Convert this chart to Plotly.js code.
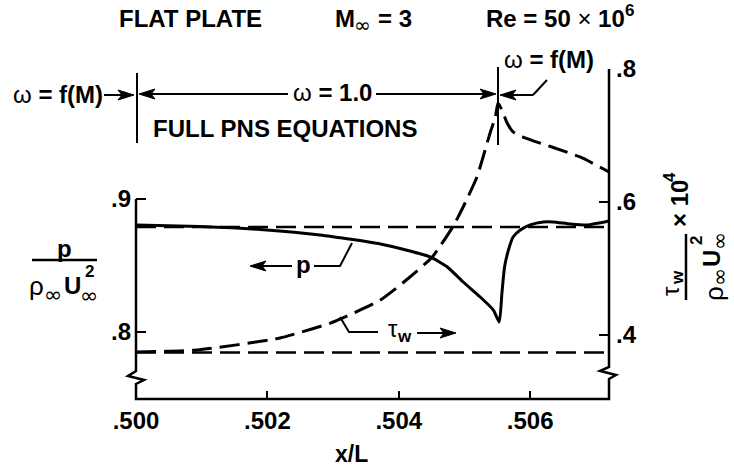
<!DOCTYPE html>
<html>
<head>
<meta charset="utf-8">
<script src="https://cdn.plot.ly/plotly-3.0.1.min.js"></script>
<style>html,body{margin:0;padding:0;background:#fff;}#chart{width:734px;height:467px;}</style>
</head>
<body>
<div id="chart"></div>
<script>
// ---- data ----
const xP    = [0.50000, 0.50098, 0.50189, 0.50280, 0.50372, 0.50417, 0.50448, 0.50474, 0.50498, 0.50524, 0.50544, 0.50553, 0.50557, 0.50561, 0.50567, 0.50574, 0.50585, 0.50600, 0.50620, 0.50635, 0.50661, 0.50687, 0.50720];
const pVals = [0.8805, 0.8793, 0.8771, 0.8729, 0.8662, 0.8609, 0.8564, 0.8489, 0.8376, 0.8263, 0.8165, 0.8075, 0.8293, 0.8489, 0.8617, 0.8714, 0.8767, 0.8805, 0.8827, 0.8827, 0.8812, 0.8805, 0.8835];
const xTau    = [0.50000, 0.50093, 0.50219, 0.50296, 0.50372, 0.50417, 0.50451, 0.50483, 0.50498, 0.50519, 0.50539, 0.50547, 0.50551, 0.50557, 0.50565, 0.50574, 0.50589, 0.50676, 0.50720];
const tauVals = [0.3744, 0.3774, 0.3955, 0.4180, 0.4526, 0.4872, 0.5173, 0.5639, 0.5925, 0.6376, 0.7038, 0.7278, 0.7489, 0.7383, 0.7188, 0.7053, 0.6977, 0.6677, 0.6451];
const xRef   = [0.5000, 0.5072];
const pRef   = [0.879, 0.879];
const tauRef = [0.3737, 0.3737];
const xTickVals = [0.500, 0.502, 0.504, 0.506];
const xTickText = ['.500', '.502', '.504', '.506'];
const pTickVals = [0.8, 0.9];
const pTickText = ['.8', '.9'];
const tauTickVals = [0.4, 0.6, 0.8];
const tauTickText = ['.4', '.6', '.8'];

// ---- layout helpers (pixel -> paper) ----
const PL = 136, PR = 609, PT = 69, PB = 399;
const fx = px => (px - PL) / (PR - PL);
const fy = py => (PB - py) / (PB - PT);
const FONT = 'Liberation Sans, Arial, Helvetica, sans-serif';
const INF_FONT = 'DejaVu Sans';
const DASH = '20px,8px';

const traces = [
  {x: xP, y: pVals, mode: 'lines', line: {color: '#000', width: 3, shape: 'spline', smoothing: 0.5}, yaxis: 'y'},
  {x: xRef, y: pRef, mode: 'lines', line: {color: '#000', width: 2.5, dash: DASH}, yaxis: 'y'},
  {x: xTau, y: tauVals, mode: 'lines', line: {color: '#000', width: 3, dash: DASH, shape: 'spline', smoothing: 0.5}, yaxis: 'y2'},
  {x: xRef, y: tauRef, mode: 'lines', line: {color: '#000', width: 2.5, dash: DASH}, yaxis: 'y2'}
];

function line(x0, y0, x1, y1, w) {
  return {type: 'line', xref: 'paper', yref: 'paper', x0: fx(x0), y0: fy(y0), x1: fx(x1), y1: fy(y1), line: {color: '#000', width: w || 2}};
}
function pathPx(pts, w, fill) {
  const d = pts.map((p, i) => (i ? 'L' : 'M') + fx(p[0]) + ',' + fy(p[1])).join(' ') + (fill ? ' Z' : '');
  const s = {type: 'path', xref: 'paper', yref: 'paper', path: d, line: {color: '#000', width: w || 2}};
  if (fill) s.fillcolor = '#000';
  return s;
}
// arrow from tail (tx,ty) to head (hx,hy): shaft + filled head
function arrowShapes(hx, hy, tx, ty) {
  const L = Math.hypot(hx - tx, hy - ty), ux = (hx - tx) / L, uy = (hy - ty) / L;
  const len = 16, hw = 5, notch = 4;
  const bx = hx - ux * len, by = hy - uy * len;
  const nx = -uy, ny = ux;
  return [
    line(tx, ty, hx - ux * (len - notch), hy - uy * (len - notch), 2),
    pathPx([[hx, hy], [bx + nx * hw, by + ny * hw], [hx - ux * (len - notch), hy - uy * (len - notch)], [bx - nx * hw, by - ny * hw]], 1, true)
  ];
}
const shapes = [
  pathPx([[136,199],[136,371],[128,376],[144,380],[136,384],[136,399],[609,399],[609,379],[616,375],[600,371],[609,367],[609,69]], 2.5),
  line(137, 73, 137, 143, 2),
  line(498, 67, 498, 145, 2),
  line(533, 95, 547, 80, 2),
  line(32, 260, 97, 260, 2.5),
  line(686, 234, 686, 300, 2.5),
  pathPx([[314,266],[340,266],[352,243]], 2),
  pathPx([[340,317],[349,332],[378,332]], 2),
  ...arrowShapes(134, 95, 104, 95),
  ...arrowShapes(139, 94, 288, 94),
  ...arrowShapes(496, 94, 376, 94),
  ...arrowShapes(500, 95, 533, 95),
  ...arrowShapes(250, 266, 292, 266),
  ...arrowShapes(456, 333, 417, 333)
];

function txt(t, px, py, size, extra, fam) {
  return Object.assign({text: t, x: fx(px), y: fy(py), xref: 'paper', yref: 'paper', showarrow: false,
    xanchor: 'center', yanchor: 'middle', font: {family: fam || FONT, size: size || 24, color: '#000'}}, extra || {});
}
const annotations = [
  txt('<b>FLAT PLATE</b>', 190, 19),
  txt('<b>M</b>', 345, 19),
  txt('∞', 362, 25, 20, null, INF_FONT),
  txt('<b>= 3</b>', 395, 19),
  txt('<b>Re = 50 </b>×<b> 10</b>', 627, 19, 24, {xanchor: 'right'}),
  txt('<b>6</b>', 623, 10, 17, {xanchor: 'left'}),
  txt('ω<b> = f(M)</b>', 58, 95),
  txt('ω<b> = 1.0</b>', 332, 92),
  txt('ω<b> = f(M)</b>', 549, 59),
  txt('<b>FULL PNS EQUATIONS</b>', 285, 128),
  txt('<b>p</b>', 303, 264),
  txt('τ', 393, 328),
  txt('<b>w</b>', 404, 336, 17),
  txt('<b>x/L</b>', 351, 454, 23),
  // left axis title
  txt('<b>p</b>', 64, 248),
  txt('ρ', 36, 286, 26),
  txt('∞', 53, 294, 22, null, INF_FONT),
  txt('<b>U</b>', 72, 285),
  txt('<b>2</b>', 89, 271, 17),
  txt('∞', 89, 295, 22, null, INF_FONT),
  // right axis title (rotated)
  txt('τ', 670, 291, 24, {textangle: -90}),
  txt('<b>w</b>', 677, 278, 17, {textangle: -90}),
  txt('ρ', 714, 294, 26, {textangle: -90}),
  txt('∞', 719, 277, 22, {textangle: -90}, INF_FONT),
  txt('<b>U</b>', 711, 259, 24, {textangle: -90}),
  txt('<b>2</b>', 696, 241, 17, {textangle: -90}),
  txt('∞', 719, 241, 22, {textangle: -90}, INF_FONT),
  txt('<b>× 10</b>', 679, 204, 24, {textangle: -90}),
  txt('<b>4</b>', 669, 177, 17, {textangle: -90})
];

const tickFont = {family: FONT, size: 24, color: '#000', weight: 'bold'};
const layout = {
  width: 734, height: 467,
  margin: {l: PL, r: 734 - PR, t: PT, b: 467 - PB, pad: 0},
  paper_bgcolor: '#fff', plot_bgcolor: '#fff',
  showlegend: false,
  xaxis: {range: [0.5, 0.5072], tickvals: xTickVals, ticktext: xTickText, ticks: 'inside', ticklen: 8, tickwidth: 2, tickcolor: '#000',
    showline: false, showgrid: false, zeroline: false, tickfont: tickFont, ticklabelstandoff: 5},
  yaxis: {range: [0.74962, 0.99774], tickvals: pTickVals, ticktext: pTickText, ticks: 'inside', ticklen: 10, tickwidth: 2, tickcolor: '#000',
    showline: false, showgrid: false, zeroline: false, tickfont: tickFont, ticklabelstandoff: 4},
  yaxis2: {range: [0.30376, 0.8], overlaying: 'y', side: 'right', tickvals: tauTickVals, ticktext: tauTickText, ticks: 'inside', ticklen: 10, tickwidth: 2, tickcolor: '#000',
    showline: false, showgrid: false, zeroline: false, tickfont: tickFont, ticklabelstandoff: 6},
  shapes: shapes,
  annotations: annotations
};
Plotly.newPlot('chart', traces, layout, {staticPlot: true, displayModeBar: false});
</script>
</body>
</html>
